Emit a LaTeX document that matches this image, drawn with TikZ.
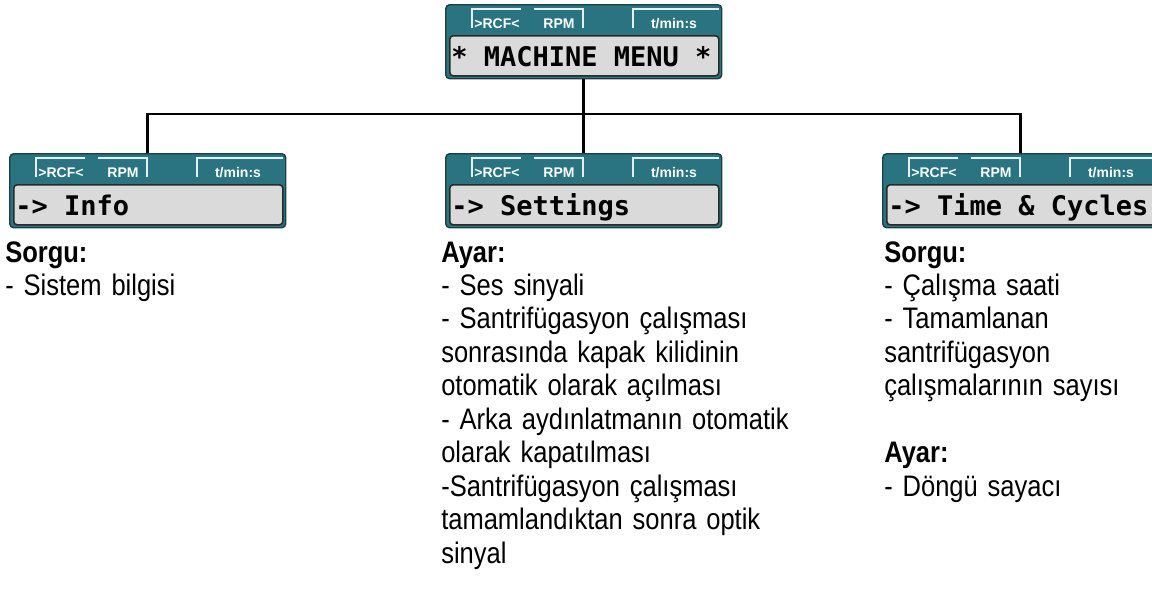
\documentclass[tikz,border=0pt]{standalone}
\usepackage{fontspec}
\newfontfamily\bodyfont[FakeStretch=0.86]{Liberation Sans}
\newfontfamily\tabfont{Liberation Sans}
\newfontfamily\lcdfont{DejaVu Sans Mono}
\definecolor{panelteal}{HTML}{2A7380}
\definecolor{paneledge}{HTML}{1E3D44}
\definecolor{lcdfill}{HTML}{DADADA}
\definecolor{lcdedge}{HTML}{2A2A2A}
\definecolor{tabwhite}{HTML}{E6EFF1}
\newcommand\lcdpanel[4]{%
  \node[panel] (#1) at (#2,#3) {};
  \begin{scope}[shift={(#2,#3)}]
    \node[lcd] (#1-lcd) at (4,31) {};
    \draw[tabline] (27,24) -- (27,5) -- (76,5);
    \draw[tabline] (89,5) -- (138,5) -- (138,24);
    \draw[tabline] (188,24) -- (188,5) -- (274,5);
    \node[tabtext] (#1-rcf) at (52,24) {>RCF<};
    \node[tabtext] (#1-rpm) at (114,24) {RPM};
    \node[tabtext] (#1-time) at (229,24) {t/min:s};
    \node[lcdtext] (#1-txt) at (6,62) {#4};
  \end{scope}}
\begin{document}
\begin{tikzpicture}[x=0.75pt,y=-0.75pt,
  panel/.style={draw=paneledge, line width=1.1pt, fill=panelteal, rounded corners=3pt,
    anchor=north west, inner sep=0pt, minimum width=207pt, minimum height=55.5pt},
  lcd/.style={draw=lcdedge, line width=1.2pt, fill=lcdfill, rounded corners=2.5pt,
    anchor=north west, inner sep=0pt, minimum width=201.75pt, minimum height=30pt},
  tabline/.style={draw=tabwhite, line width=1.1pt},
  tabtext/.style={anchor=base, inner sep=0pt, text=white, font=\tabfont\bfseries\fontsize{10.5pt}{12pt}\selectfont},
  lcdtext/.style={anchor=base west, inner sep=0pt, text=black, font=\lcdfont\bfseries\fontsize{20.25pt}{24pt}\selectfont},
  conn/.style={draw=black, line width=1.9pt},
  body/.style={anchor=north west, inner sep=0pt, align=left, text width=#1,
    font=\bodyfont\fontsize{22.25pt}{25.1pt}\selectfont},
]
\useasboundingbox (0,0) rectangle (1152,603);
\lcdpanel{top}{445}{4}{* MACHINE MENU *}
\lcdpanel{left}{9}{153}{-> Info}
\lcdpanel{mid}{445}{153}{-> Settings}
\lcdpanel{right}{882}{153}{-> Time \& Cycles}
\coordinate (hub) at (top.south |- 0,114);
\draw[conn] (top.south) -- (hub);
\draw[conn] (hub) -- (mid.north);
\draw[conn] (left.north) |- (hub) -| (right.north);
\node[body=300pt, anchor=base west] (leftinfo) at (5,262) {\textbf{Sorgu:}\\- Sistem bilgisi};
\node[body=300pt, anchor=base west] (midinfo) at (441,262) {\textbf{Ayar:}\\- Ses sinyali\\- Santrifügasyon çalışması\\sonrasında kapak kilidinin\\otomatik olarak açılması\\- Arka aydınlatmanın otomatik\\olarak kapatılması\\-Santrifügasyon çalışması\\tamamlandıktan sonra optik\\sinyal};
\node[body=200pt, anchor=base west] (rightinfo) at (884,262) {\textbf{Sorgu:}\\- Çalışma saati\\- Tamamlanan\\santrifügasyon\\çalışmalarının sayısı\\[25.1pt]\textbf{Ayar:}\\- Döngü sayacı};
\end{tikzpicture}
\end{document}
